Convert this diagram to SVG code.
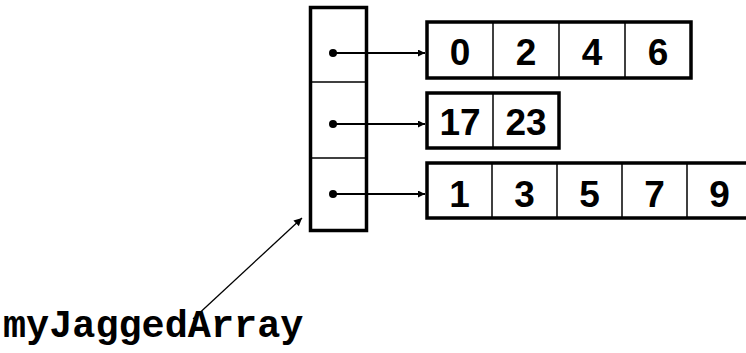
<svg xmlns="http://www.w3.org/2000/svg" width="746" height="353" viewBox="0 0 746 353">
<style>
.outer{fill:none;stroke:#000;stroke-width:3.5}
.div{stroke:#000;stroke-width:1.5}
.num{font-family:"Liberation Sans",Arial,sans-serif;font-weight:bold;font-size:37px;text-anchor:middle;fill:#000}
.lbl{font-family:"Liberation Mono","Courier New",monospace;font-weight:bold;font-size:38.5px;fill:#000}
.conn{stroke:#000;stroke-width:2;fill:none}
.thin{stroke:#000;stroke-width:1.3;fill:none}
</style>
<defs>
<marker id="ah" viewBox="0 0 10 10" refX="10" refY="5" markerWidth="9" markerHeight="7" markerUnits="userSpaceOnUse" orient="auto">
<path d="M0,0 L10,5 L0,10 z" fill="#000"/>
</marker>
<marker id="ah2" viewBox="0 0 10 10" refX="10" refY="5" markerWidth="10" markerHeight="8" markerUnits="userSpaceOnUse" orient="auto">
<path d="M0,0 L10,5 L0,10 z" fill="#000"/>
</marker>
</defs>
<rect width="746" height="353" fill="#fff"/>
<g id="myJaggedArray">
<rect class="outer" x="310.5" y="7.5" width="56" height="223"/>
<line class="div" x1="310.5" y1="82" x2="366.5" y2="82"/>
<line class="div" x1="310.5" y1="158" x2="366.5" y2="158"/>
<circle cx="333" cy="53" r="4"/>
<circle cx="333" cy="124" r="4"/>
<circle cx="333" cy="194" r="4"/>
</g>
<g id="row0">
<rect class="outer" x="427" y="22" width="264" height="56"/>
<line class="div" x1="493" y1="22" x2="493" y2="78"/>
<line class="div" x1="559" y1="22" x2="559" y2="78"/>
<line class="div" x1="625" y1="22" x2="625" y2="78"/>
<text class="num" x="460" y="65">0</text>
<text class="num" x="526" y="65">2</text>
<text class="num" x="592" y="65">4</text>
<text class="num" x="658" y="65">6</text>
</g>
<g id="row1">
<rect class="outer" x="427" y="93" width="132" height="55"/>
<line class="div" x1="493" y1="93" x2="493" y2="148"/>
<text class="num" x="460" y="135">17</text>
<text class="num" x="526" y="135">23</text>
</g>
<g id="row2">
<rect class="outer" x="427" y="163" width="325" height="55"/>
<line class="div" x1="492" y1="163" x2="492" y2="218"/>
<line class="div" x1="557" y1="163" x2="557" y2="218"/>
<line class="div" x1="622" y1="163" x2="622" y2="218"/>
<line class="div" x1="687" y1="163" x2="687" y2="218"/>
<text class="num" x="459.5" y="207">1</text>
<text class="num" x="524.5" y="207">3</text>
<text class="num" x="589.5" y="207">5</text>
<text class="num" x="654.5" y="207">7</text>
<text class="num" x="719.5" y="207">9</text>
</g>
<g id="label">
<text class="lbl" x="3" y="337">myJaggedArray</text>
</g>
<g id="connectors">
<line class="conn" x1="333" y1="53" x2="425" y2="53" marker-end="url(#ah)"/>
<line class="conn" x1="333" y1="124" x2="425" y2="124" marker-end="url(#ah)"/>
<line class="conn" x1="333" y1="194" x2="425" y2="194" marker-end="url(#ah)"/>
<line class="thin" x1="193" y1="319" x2="302" y2="218" marker-end="url(#ah2)"/>
</g>
</svg>
